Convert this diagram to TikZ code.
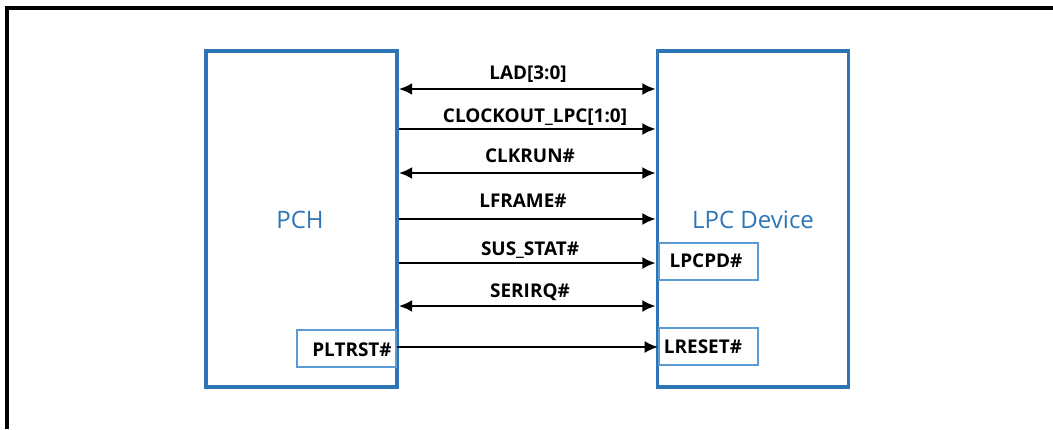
\documentclass[tikz,border=0pt]{standalone}
\usepackage{fontspec}
\setmainfont{Open Sans}
\usetikzlibrary{arrows.meta,calc}
\definecolor{boxblue}{HTML}{2E75B6}
\definecolor{lightblue}{HTML}{5B9BD5}
\tikzset{
  bigbox/.style={draw=boxblue,line width=2.8pt,minimum width=191*0.75pt,minimum height=336*0.75pt,inner sep=0pt},
  pinbox/.style={draw=lightblue,line width=1.2pt,minimum width=99*0.75pt,minimum height=37*0.75pt,inner sep=0pt},
  sig/.style={line width=1.6pt,black},
  tipx/.style={-{Latex[length=10pt,width=9pt]}},
  tipxx/.style={{Latex[length=10pt,width=9pt]}-{Latex[length=10pt,width=9pt]}},
  lbl/.style={font=\bfseries\fontsize{14.2}{16}\selectfont,anchor=base,inner sep=0pt},
  title/.style={font=\fontsize{18}{21}\selectfont,text=boxblue,anchor=base,inner sep=0pt},
}
\begin{document}
\begin{tikzpicture}[x=0.75pt,y=-0.75pt]
\useasboundingbox (0,0) rectangle (1053,429);
\draw[line width=2.6pt] (7,429) -- (7,8) -- (1053,8);
\node[bigbox] (pch) at (301.5,219) {};
\node[bigbox] (dev) at (753,219) {};
\node[title] (pchlbl) at (300,228) {PCH};
\node[title] (devlbl) at (753,228) {LPC Device};
\node[pinbox,anchor=north west] (lpcpd) at (658,242) {};
\node[lbl] (lpcpdt) at (706,267) {LPCPD\#};
\node[pinbox,anchor=north west] (lreset) at (658,327) {};
\node[lbl] (lresett) at (703,353) {LRESET\#};
\node[pinbox,anchor=north east] (pltrst) at (397,329) {};
\node[lbl] (pltrstt) at (352,356) {PLTRST\#};
% signal rows
\coordinate (y1) at (0,89);
\coordinate (y2) at (0,129);
\coordinate (y3) at (0,173);
\coordinate (y4) at (0,219);
\coordinate (y5) at (0,263);
\coordinate (y6) at (0,306);
\coordinate (y7) at (0,347);
\draw[sig,tipxx] (pch.east |- y1) -- (dev.west |- y1);
\draw[sig,tipx] (pch.east |- y2) -- (dev.west |- y2);
\draw[sig,tipxx] (pch.east |- y3) -- (dev.west |- y3);
\draw[sig,tipx] (pch.east |- y4) -- (dev.west |- y4);
\draw[sig,tipx] (pch.east |- y5) -- (dev.west |- y5);
\draw[sig,tipxx] (pch.east |- y6) -- (dev.west |- y6);
\draw[sig,tipx] (pltrst.east |- y7) -- (lreset.west |- y7);
\node[lbl] (l1) at (528,79) {LAD[3:0]};
\node[lbl] (l2) at (535,122) {CLOCKOUT\_LPC[1:0]};
\node[lbl] (l3) at (530,162) {CLKRUN\#};
\node[lbl] (l4) at (523,207) {LFRAME\#};
\node[lbl] (l5) at (530,255) {SUS\_STAT\#};
\node[lbl] (l6) at (530,297) {SERIRQ\#};
\end{tikzpicture}
\end{document}
